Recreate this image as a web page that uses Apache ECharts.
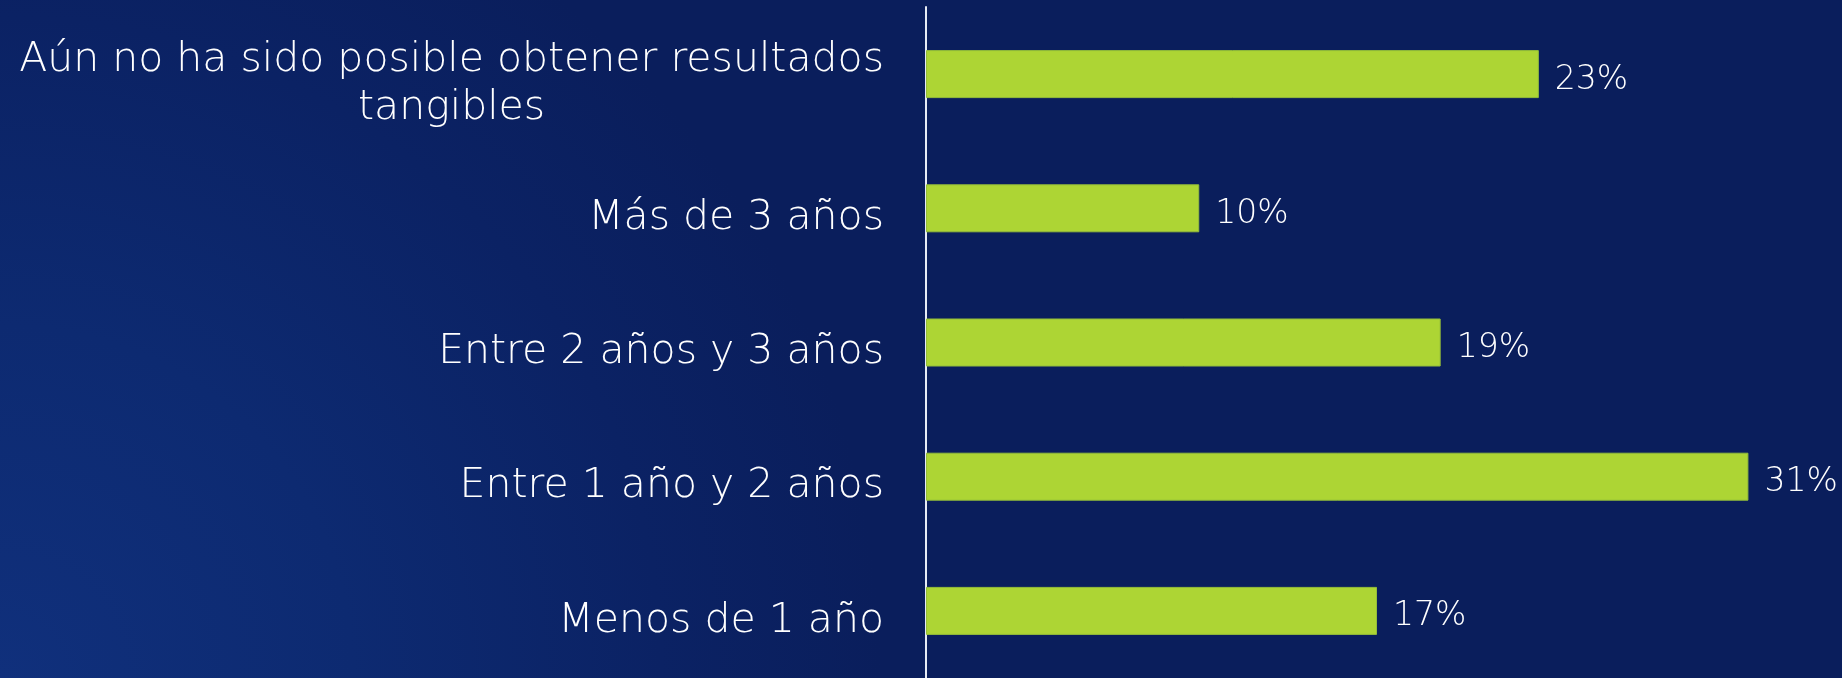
<!DOCTYPE html>
<html>
<head>
<meta charset="utf-8">
<script src="https://cdn.jsdelivr.net/npm/echarts@6/dist/echarts.min.js"></script>
<style>
  html, body { margin: 0; padding: 0; }
  #bar_charts { width: 1842px; height: 678px; }
</style>
</head>
<body>
<div id="bar_charts"></div>
<script>
// categories, top to bottom
var categories = [
  "Aún no ha sido posible obtener resultados\ntangibles",
  "Más de 3 años",
  "Entre 2 años y 3 años",
  "Entre 1 año y 2 años",
  "Menos de 1 año"
];
// share of answers (%)
var values = [23.1, 10.3, 19.4, 31.0, 17.0];

var barCharts = echarts.init(document.getElementById("bar_charts"));
var option = {
  backgroundColor: {
    type: "radial",
    x: 0,
    y: 1,
    r: 1.3,
    colorStops: [
      { offset: 0, color: "#10307c" },
      { offset: 0.4, color: "#0d2a71" },
      { offset: 0.75, color: "#0b2264" },
      { offset: 1, color: "#0a1e5c" }
    ]
  },
  textStyle: {
    fontFamily: "'DejaVu Sans', sans-serif",
    fontWeight: 200
  },
  grid: {
    left: 926,
    top: 7,
    width: 902,
    height: 675
  },
  xAxis: {
    type: "value",
    min: 0,
    max: 34,
    show: false
  },
  yAxis: {
    type: "category",
    inverse: true,
    data: categories,
    axisTick: { show: false },
    axisLine: {
      show: true,
      lineStyle: { color: "#e6ebf5", width: 2 }
    },
    axisLabel: {
      margin: 42,
      color: "#ffffff",
      fontSize: 41,
      fontWeight: 200,
      lineHeight: 48,
      padding: [20, 0, 0, 0],
      formatter: function (v) {
        // center lines within the block, block stays right-aligned
        return v.split("\n").map(function (s) { return "{c|" + s + "}"; }).join("\n");
      },
      rich: {
        c: { align: "center", color: "#ffffff", fontSize: 41, fontWeight: 200, lineHeight: 48 }
      }
    }
  },
  series: [
    {
      type: "bar",
      data: values,
      barWidth: 48,
      itemStyle: {
        color: "#add534",
        borderColor: "#93bd3a",
        borderWidth: 1
      },
      label: {
        show: true,
        position: "right",
        distance: 16,
        offset: [0, 6],
        color: "#ffffff",
        fontSize: 33,
        fontWeight: 200,
        formatter: function (p) {
          return Math.round(p.value) + "%";
        }
      }
    }
  ]
};
barCharts.setOption(option);
</script>
</body>
</html>
